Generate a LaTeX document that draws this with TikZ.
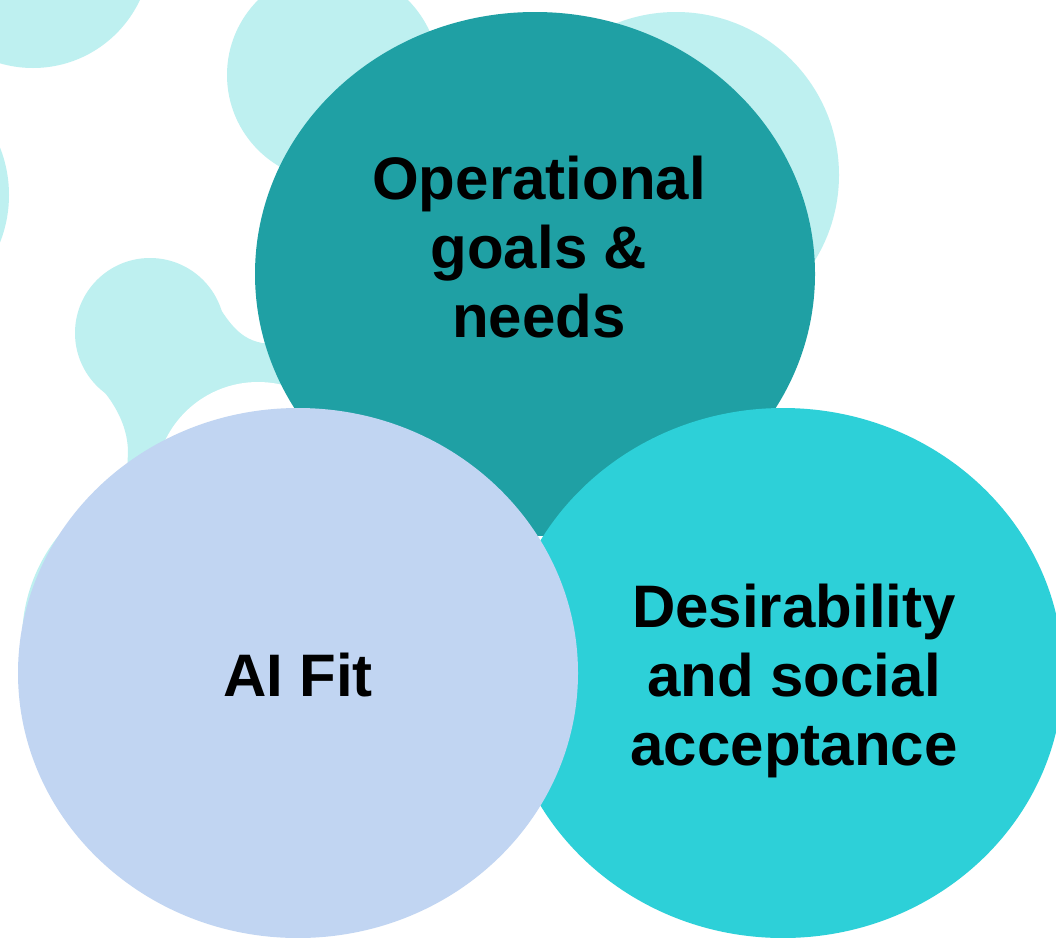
\documentclass[tikz,border=0pt]{standalone}
\usepackage{fontspec}
\setmainfont{Liberation Sans}
\usetikzlibrary{shapes.geometric}
\definecolor{tealc}{HTML}{1FA0A4}
\definecolor{cyanc}{HTML}{2DD0D8}
\definecolor{lavc}{HTML}{C1D5F2}
\definecolor{blobc}{HTML}{BEF0F0}
\begin{document}
\begin{tikzpicture}[x=1pt,y=-1pt,
  venn/.style={ellipse, minimum width=560pt, minimum height=524pt, inner sep=0pt, draw=none},
  vennlow/.style={venn, minimum height=530pt},
  blob/.style={fill=blobc},
  lbl/.style={font=\fontsize{60}{69}\selectfont\bfseries, align=center, inner sep=0pt, text=black}]
\useasboundingbox (0,0) rectangle (1056,937);
\begin{scope}
\clip (0,0) rectangle (1056,937);
\fill[white] (0,0) rectangle (1056,937);
% background blobs
\fill[blob] (33,-50) circle[radius=118];
\fill[blob] (-120,195) circle[radius=129];
\fill[blob] (333,75) circle[radius=106];
\fill[blob] (676,175) circle[radius=163];
\fill[blob] (150,333) circle[radius=75];
\fill[blob] (210,293) .. controls (225,315) and (235,338) .. (262,343) -- (320,343) -- (320,560) -- (127,560) -- (127,480) -- (128,450) .. controls (127,425) and (115,400) .. (87,373) -- cycle;
\fill[blob] (189,640) circle[radius=167];
\fill[white] (258,485) circle[radius=103];
% main circles
\node[venn, fill=tealc] (ops) at (535,274) {};
\node[vennlow, fill=cyanc] (des) at (783,673) {};
\node[vennlow, fill=lavc] (ai) at (298,673) {};
% labels
\node[lbl] (opst) at (539,247) {Operational\\goals \&\\needs};
\node[lbl] (dest) at (794,681) {Desirability\\and social\\acceptance};
\node[lbl] (ait) at (298,675) {AI Fit};
\end{scope}
\end{tikzpicture}
\end{document}
